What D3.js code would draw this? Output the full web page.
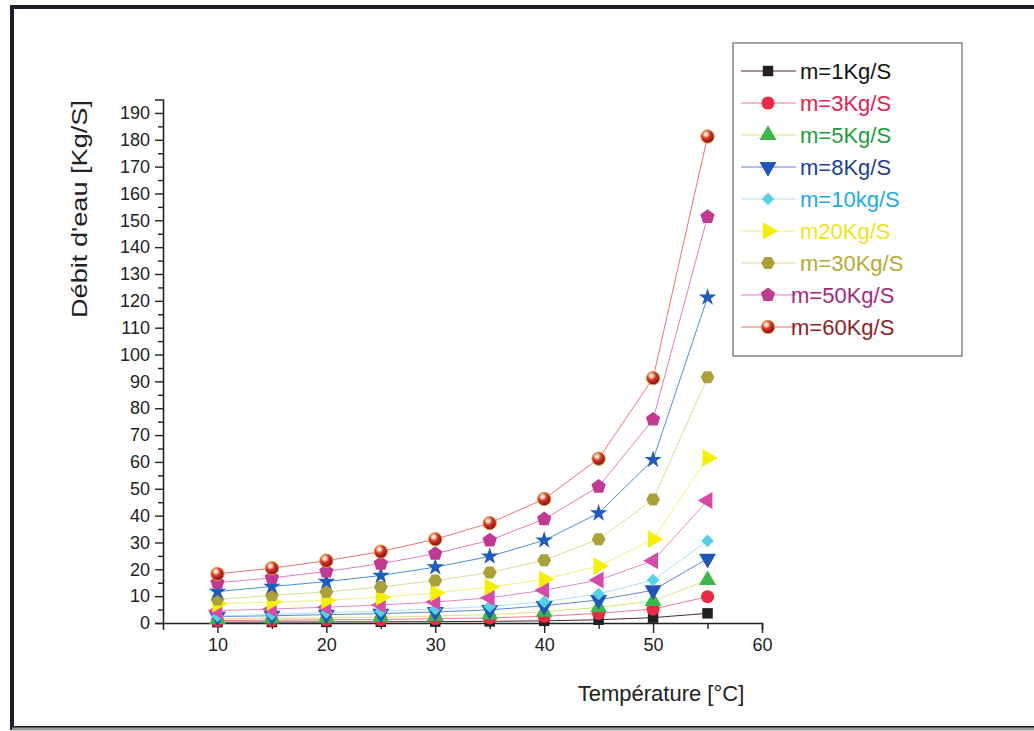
<!DOCTYPE html>
<html>
<head>
<meta charset="utf-8">
<script src="https://cdn.jsdelivr.net/npm/d3@7"></script>
<style>
  body { margin: 0; background: #fff; }
  svg { font-family: "Liberation Sans", Arial, sans-serif; }
</style>
</head>
<body>
<script>
// temperatures (x) and one array of flow values per series
const temps = [10, 15, 20, 25, 30, 35, 40, 45, 50, 55]
const m1  = [0.3, 0.35, 0.4, 0.45, 0.5, 0.6, 0.8, 1.2, 2.0, 3.6]
const m3  = [0.9, 1.0, 1.2, 1.3, 1.6, 1.9, 2.5, 3.6, 5.2, 9.8]
const m5  = [1.5, 1.7, 1.9, 2.2, 2.6, 3.1, 4.2, 5.8, 8.2, 16]
const m8  = [2.4, 2.7, 3.1, 3.5, 4.1, 4.9, 6.4, 8.6, 12.2, 24]
const m10 = [2.6, 3.2, 3.9, 4.4, 5.2, 6.2, 7.9, 10.8, 16, 30.6]
const m15 = [4.6, 5.2, 5.9, 6.7, 7.8, 9.4, 12.2, 16, 23.2, 45.6]
const m20 = [7.2, 7.8, 8.4, 9.6, 11.2, 13.4, 16.3, 21.2, 31.2, 61.5]
const m30 = [8.8, 10.3, 11.6, 13.4, 15.8, 18.8, 23.4, 31.2, 46, 91.5]
const m40 = [11.7, 13.6, 15.4, 17.7, 20.8, 24.8, 30.8, 40.9, 60.8, 121.3]
const m50 = [15, 16.8, 19.2, 22.1, 25.8, 30.8, 38.7, 50.8, 75.8, 151.3]
const m60 = [18.3, 20.4, 23.2, 26.6, 31.2, 37.2, 46.2, 61.2, 91.2, 181.2]

const seriesNames = ['m=1Kg/S', 'm=3Kg/S', 'm=5Kg/S', 'm=8Kg/S', 'm=10kg/S', 'm=15Kg/S',
  'm20Kg/S', 'm=30Kg/S', 'm=40Kg/S', 'm=50Kg/S', 'm=60Kg/S']
const seriesValues = [m1, m3, m5, m8, m10, m15, m20, m30, m40, m50, m60]
// only these appear in the legend box
const legendNames = ['m=1Kg/S', 'm=3Kg/S', 'm=5Kg/S', 'm=8Kg/S', 'm=10kg/S',
  'm20Kg/S', 'm=30Kg/S', 'm=50Kg/S', 'm=60Kg/S']
const xTicks = [10, 20, 30, 40, 50, 60]

// custom polygons for markers d3 does not have
const polygon = (n, rot) => ({
  draw(ctx, size) {
    const r = Math.sqrt(size / (n * 0.5 * Math.sin(2 * Math.PI / n)))
    for (let i = 0; i < n; i++) {
      const a = rot + i * 2 * Math.PI / n
      const x = r * Math.cos(a), y = r * Math.sin(a)
      i ? ctx.lineTo(x, y) : ctx.moveTo(x, y)
    }
    ctx.closePath()
  }
})

const style = {
  'm=1Kg/S':  {sym: d3.symbolSquare, size: 110, rot: 0, fill: '#222', line: '#4a2a2a', text: '#111'},
  'm=3Kg/S':  {sym: d3.symbolCircle, size: 135, rot: 0, fill: '#ec2a44', line: '#f27a90', text: '#e8204e'},
  'm=5Kg/S':  {sym: d3.symbolTriangle, size: 125, rot: 0, fill: '#3cb84a', line: '#dce27a', text: '#1e9c3c'},
  'm=8Kg/S':  {sym: d3.symbolTriangle, size: 125, rot: 180, fill: '#1f56b8', line: '#5a86d2', text: '#1c3f98'},
  'm=10kg/S': {sym: d3.symbolSquare, size: 80, rot: 45, fill: '#52d2e4', line: '#a8e4f0', text: '#1aace2'},
  'm=15Kg/S': {sym: d3.symbolTriangle, size: 125, rot: -90, fill: '#d84aaa', line: '#e888c8', text: '#d84aaa'},
  'm20Kg/S':  {sym: d3.symbolTriangle, size: 135, rot: 90, fill: '#f6f000', line: '#f2f27a', text: '#f0e418'},
  'm=30Kg/S': {sym: polygon(6, 0), size: 125, rot: 0, fill: '#aaa236', line: '#dcdc9a', text: '#b8aa34'},
  'm=40Kg/S': {sym: d3.symbolStar, size: 95, rot: 0, fill: '#1f5cc0', line: '#4a92d6', text: '#1f5cc0'},
  'm=50Kg/S': {sym: polygon(5, -Math.PI / 2), size: 135, rot: 0, fill: '#c03a92', line: '#e47ac4', text: '#a22a7a'},
  'm=60Kg/S': {sym: d3.symbolCircle, size: 140, rot: 0, fill: 'url(#sphere)', line: '#ea7474', text: '#8c2424'}
}

const data = seriesNames.map((name, i) => ({
  name,
  points: temps.map((t, j) => ({t, v: seriesValues[i][j]}))
}))

const W = 1034, H = 731
const svg = d3.select('body').append('svg').attr('width', W).attr('height', H)

const defs = svg.append('defs')
const grad = defs.append('radialGradient').attr('id', 'sphere')
  .attr('cx', '38%').attr('cy', '32%').attr('r', '70%')
grad.append('stop').attr('offset', '0%').attr('stop-color', '#fff')
grad.append('stop').attr('offset', '22%').attr('stop-color', '#f4c0a0')
grad.append('stop').attr('offset', '45%').attr('stop-color', '#d8342a')
grad.append('stop').attr('offset', '100%').attr('stop-color', '#7a1010')

// scanned page frame
svg.append('rect').attr('x', 12).attr('y', 7).attr('width', W).attr('height', 721)
  .attr('fill', 'none').attr('stroke', '#1e1e28').attr('stroke-width', 4)
svg.append('line').attr('x1', 12).attr('x2', W).attr('y1', 729).attr('y2', 729)
  .attr('stroke', '#9a9a9a').attr('stroke-width', 3)

const x = d3.scaleLinear().domain([5, 60]).range([163, 762])
const y = d3.scaleLinear().domain([0, 195]).range([623, 99.5])

const gx = svg.append('g').attr('transform', `translate(0,${y(0)})`)
gx.call(d3.axisBottom(x).tickValues(d3.range(10, 61, 5)).tickSize(7).tickPadding(8)
  .tickFormat(d => xTicks.includes(d) ? d : ''))
gx.selectAll('.tick line').attr('y2', d => xTicks.includes(d) ? 10 : 6)

const gy = svg.append('g').attr('transform', `translate(${x(5)},0)`)
gy.call(d3.axisLeft(y).tickValues(d3.range(0, 191, 5)).tickSize(8).tickPadding(5)
  .tickFormat(d => d % 10 === 0 ? d : ''))
gy.selectAll('.tick line').attr('x2', d => d % 10 === 0 ? -8 : -5)

svg.selectAll('.domain').attr('stroke', '#222').attr('stroke-width', 1.6)
svg.selectAll('.tick line').attr('stroke', '#222').attr('stroke-width', 1.4)
svg.selectAll('.tick text').attr('fill', '#222').attr('font-size', 18)
  .attr('font-family', '"Liberation Sans", Arial, sans-serif')

svg.append('text').attr('transform', 'translate(87,209) rotate(-90)')
  .attr('text-anchor', 'middle').attr('font-size', 22).attr('fill', '#222')
  .attr('textLength', 218).attr('lengthAdjust', 'spacingAndGlyphs')
  .text("Débit d'eau [Kg/S]")
svg.append('text').attr('x', 661).attr('y', 701)
  .attr('text-anchor', 'middle').attr('font-size', 22).attr('fill', '#222')
  .text('Température [°C]')

const line = d3.line().x(d => x(d.t)).y(d => y(d.v))
const plot = svg.append('g')

plot.selectAll('path.series')
  .data(data)
  .join('path')
  .attr('class', 'series')
  .attr('fill', 'none')
  .attr('stroke', d => style[d.name].line)
  .attr('stroke-width', 1)
  .attr('d', d => line(d.points))

const symPath = name => d3.symbol().type(style[name].sym).size(style[name].size)()

plot.selectAll('g.marks')
  .data(data)
  .join('g')
  .attr('class', 'marks')
  .each(function (d) {
    const s = style[d.name]
    d3.select(this).selectAll('path')
      .data(d.points)
      .join('path')
      .attr('d', symPath(d.name))
      .attr('transform', p => `translate(${x(p.t)},${y(p.v)}) rotate(${s.rot})`)
      .attr('fill', s.fill)
      .attr('stroke', d.name === 'm=60Kg/S' ? '#e8a040' : 'none')
      .attr('stroke-width', 1)
  })

// legend box
const lg = svg.append('g').attr('transform', 'translate(733,43)')
lg.append('rect').attr('width', 229).attr('height', 313)
  .attr('fill', '#fff').attr('stroke', '#666').attr('stroke-width', 1.2)

const row = lg.selectAll('g.row')
  .data(legendNames)
  .join('g')
  .attr('class', 'row')
  .attr('transform', (d, i) => `translate(0,${28 + i * 32})`)

row.append('line').attr('x1', 8).attr('x2', 63)
  .attr('stroke', d => style[d].line).attr('stroke-width', 1.2)
row.append('path')
  .attr('d', d => symPath(d))
  .attr('transform', d => `translate(35,0) rotate(${style[d].rot})`)
  .attr('fill', d => style[d].fill)
  .attr('stroke', d => d === 'm=60Kg/S' ? '#e8a040' : 'none')
row.append('text')
  .attr('x', (d, i) => i >= 7 ? 58 : 67)
  .attr('y', 8)
  .attr('font-size', 22)
  .attr('fill', d => style[d].text)
  .text(d => d)
</script>
</body>
</html>
